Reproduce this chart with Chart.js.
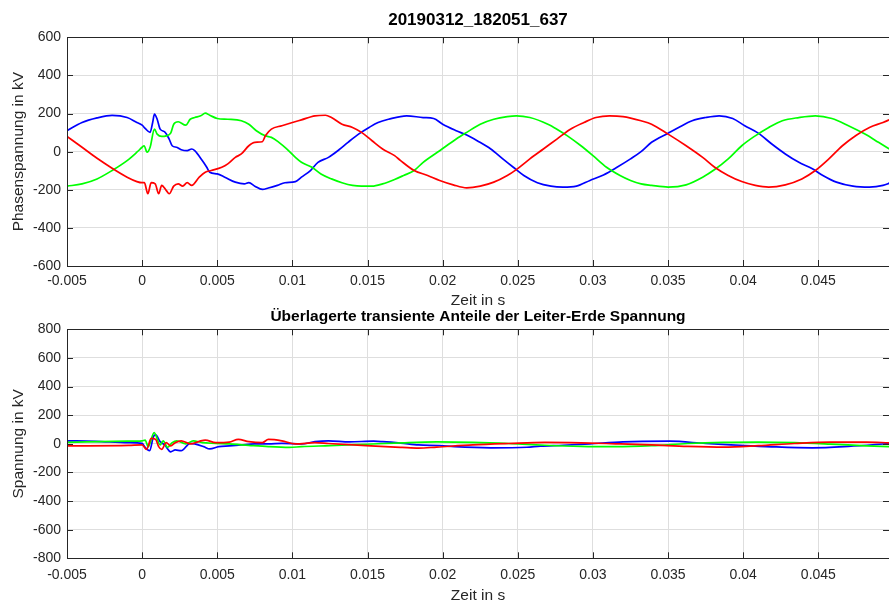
<!DOCTYPE html>
<html>
<head>
<meta charset="utf-8">
<script src="https://cdn.jsdelivr.net/npm/chart.js@4.4.1/dist/chart.umd.min.js"></script>
<style>
  html, body { margin: 0; padding: 0; background: #fff; overflow: hidden; width: 889px; height: 601px; }
  canvas { position: absolute; left: 0; }
  #top { top: 0; }
  #bottom { top: 300px; }
</style>
</head>
<body>
<canvas id="top" width="889" height="310"></canvas>
<canvas id="bottom" width="889" height="306"></canvas>
<script>
// ---------- Axis ticks ----------
const xTicks = [-0.005, 0, 0.005, 0.01, 0.015, 0.02, 0.025, 0.03, 0.035, 0.04, 0.045];
const xTickLabels = ['-0.005', '0', '0.005', '0.01', '0.015', '0.02', '0.025', '0.03', '0.035', '0.04', '0.045'];
const yTicksTop = [-600, -400, -200, 0, 200, 400, 600];
const yTicksBottom = [-800, -600, -400, -200, 0, 200, 400, 600, 800];

// ---------- Top plot: Phasenspannung (kV) ----------
const blueT = [-0.005, -0.004, -0.003, -0.002, -0.001, -0.00035, 0, 0.0002, 0.00053, 0.0007, 0.00082, 0.001, 0.0012, 0.0015, 0.0018, 0.002, 0.0023, 0.0026, 0.003, 0.0033, 0.0035, 0.004, 0.0043, 0.0045, 0.005, 0.0055, 0.0062, 0.0068, 0.0071, 0.0075, 0.008, 0.0084, 0.009, 0.0095, 0.0102, 0.0106, 0.0112, 0.0117, 0.0124, 0.0131, 0.0137, 0.0144, 0.0151, 0.0157, 0.0164, 0.0176, 0.0187, 0.0194, 0.02, 0.0209, 0.0216, 0.0223, 0.0232, 0.024, 0.0247, 0.0254, 0.0263, 0.0272, 0.028, 0.0289, 0.0298, 0.0307, 0.0316, 0.0325, 0.0332, 0.0339, 0.035, 0.0357, 0.0366, 0.0375, 0.0384, 0.0393, 0.0401, 0.041, 0.0419, 0.0428, 0.0437, 0.0446, 0.0453, 0.0462, 0.0473, 0.0484, 0.0493, 0.0498];
const blueV = [110, 153, 177, 190, 179, 153, 139, 122, 101, 153, 197, 170, 118, 104, 66, 31, 23, 10, 5, 14, 5, -47, -82, -108, -117, -134, -160, -169, -163, -181, -198, -191, -177, -163, -157, -134, -99, -56, -30, 10, 49, 92, 127, 153, 170, 188, 179, 174, 144, 110, 87, 57, 14, -38, -82, -125, -163, -181, -186, -181, -151, -122, -82, -38, 0, 49, 97, 127, 162, 179, 188, 174, 136, 97, 40, -12, -56, -90, -125, -160, -181, -186, -177, -163];

const greenT = [-0.005, -0.004, -0.003, -0.002, -0.001, -0.00035, 0, 0.00013, 0.00033, 0.00053, 0.00082, 0.001, 0.0013, 0.0016, 0.0019, 0.0021, 0.0024, 0.0029, 0.0032, 0.0035, 0.0039, 0.0042, 0.0045, 0.005, 0.0057, 0.0066, 0.0071, 0.0076, 0.0082, 0.0086, 0.0091, 0.0096, 0.0102, 0.0106, 0.0113, 0.0119, 0.0126, 0.0133, 0.014, 0.0146, 0.0153, 0.016, 0.0168, 0.0174, 0.0181, 0.0187, 0.0198, 0.0209, 0.0216, 0.0225, 0.0234, 0.0243, 0.0249, 0.0258, 0.027, 0.0276, 0.0283, 0.0292, 0.03, 0.0309, 0.0318, 0.0325, 0.0332, 0.0339, 0.035, 0.0362, 0.0373, 0.0381, 0.039, 0.0399, 0.0408, 0.0417, 0.0426, 0.0437, 0.0448, 0.0459, 0.047, 0.0481, 0.049, 0.0498];
const greenV = [-181, -169, -143, -99, -47, -3, 23, 31, -3, 23, 118, 92, 80, 83, 97, 144, 157, 139, 170, 179, 188, 202, 191, 174, 170, 162, 144, 110, 83, 75, 49, 16, -30, -56, -82, -117, -143, -163, -177, -181, -181, -169, -146, -125, -99, -56, 5, 66, 101, 144, 170, 184, 188, 179, 144, 118, 83, 31, -21, -82, -125, -151, -169, -177, -186, -174, -134, -94, -38, 31, 83, 127, 162, 179, 188, 174, 136, 92, 49, 10];

const redT = [-0.005, -0.004, -0.003, -0.002, -0.001, -0.00035, 0, 0.00015, 0.00038, 0.0006, 0.00087, 0.0011, 0.0013, 0.0016, 0.0018, 0.0021, 0.0024, 0.0027, 0.003, 0.0033, 0.0038, 0.0042, 0.0046, 0.0053, 0.0057, 0.0062, 0.0066, 0.0071, 0.0075, 0.008, 0.0082, 0.0086, 0.0093, 0.01, 0.0106, 0.0115, 0.0122, 0.0126, 0.0133, 0.014, 0.0146, 0.0153, 0.016, 0.0168, 0.0172, 0.0181, 0.019, 0.0198, 0.0207, 0.0216, 0.0225, 0.0234, 0.0243, 0.0249, 0.0258, 0.0267, 0.0276, 0.0285, 0.0294, 0.0302, 0.0311, 0.032, 0.0332, 0.0339, 0.035, 0.0362, 0.0373, 0.0381, 0.039, 0.0399, 0.0408, 0.0417, 0.0428, 0.0439, 0.0448, 0.0457, 0.0466, 0.0475, 0.0484, 0.0493, 0.0498];
const redV = [80, 23, -35, -87, -134, -157, -163, -163, -221, -163, -169, -221, -177, -203, -221, -181, -169, -181, -163, -177, -134, -108, -99, -82, -64, -30, -12, 31, 49, 52, 83, 118, 136, 153, 167, 188, 191, 179, 144, 127, 101, 57, 14, -21, -47, -99, -125, -151, -174, -190, -181, -160, -125, -94, -38, 14, 66, 118, 153, 179, 188, 184, 162, 144, 92, 31, -30, -82, -125, -157, -177, -186, -174, -143, -99, -38, 31, 85, 127, 153, 170];

// ---------- Bottom plot: transient components (kV) ----------
const blueTrT = [-0.005, -0.0031, -0.0009, 0, 0.0002, 0.0005, 0.00075, 0.0009, 0.0012, 0.0015, 0.0019, 0.0022, 0.0026, 0.0032, 0.0035, 0.0041, 0.0045, 0.0051, 0.0058, 0.0066, 0.0075, 0.0084, 0.0093, 0.0106, 0.0115, 0.0124, 0.0138, 0.0154, 0.016, 0.0172, 0.0184, 0.0198, 0.0208, 0.0232, 0.0256, 0.0265, 0.028, 0.0298, 0.032, 0.0351, 0.0375, 0.0398, 0.0422, 0.0446, 0.047, 0.0497];
const blueTrV = [21, 17, 8, 3, -25, -48, 50, 62, 15, -8, -56, -43, -48, 3, -1, -20, -36, -20, -15, -8, -1, -1, 3, -1, 15, 21, 14, 18, 15, 5, -8, -12, -20, -28, -24, -16, -10, 0, 14, 18, 2, -10, -22, -28, -18, 2];

const greenTrT = [-0.005, -0.001, 0, 0.0002, 0.0004, 0.0008, 0.0012, 0.0014, 0.0017, 0.002, 0.0023, 0.0029, 0.0034, 0.004, 0.0049, 0.0058, 0.0071, 0.0084, 0.0098, 0.0106, 0.0125, 0.0149, 0.0173, 0.0196, 0.022, 0.0244, 0.0268, 0.0292, 0.0315, 0.0339, 0.0363, 0.0387, 0.041, 0.0434, 0.0458, 0.0482, 0.0497];
const greenTrV = [10, 18, 21, 26, -20, 78, -8, 21, -25, 8, 21, -1, 21, 8, 3, -1, -11, -20, -25, -20, -13, -3, 7, 13, 10, 2, -10, -18, -20, -13, 2, 10, 12, 8, -2, -14, -20];

const redTrT = [-0.005, -0.0009, 0, 0.0003, 0.0006, 0.0009, 0.0011, 0.0013, 0.0016, 0.0019, 0.0022, 0.0026, 0.0032, 0.0038, 0.0042, 0.0049, 0.0058, 0.0064, 0.0071, 0.008, 0.0084, 0.0093, 0.0102, 0.0115, 0.0124, 0.0149, 0.0173, 0.0184, 0.0196, 0.022, 0.0244, 0.0268, 0.0292, 0.0315, 0.0339, 0.0363, 0.0387, 0.041, 0.0434, 0.0458, 0.0482, 0.0497];
const redTrV = [-15, -11, -8, -39, 38, 31, -20, -39, 8, -15, 8, 21, -1, 17, 26, 8, 12, 31, 15, 8, 31, 21, -1, 8, 2, -13, -25, -30, -23, -8, 2, 10, 7, 0, -8, -18, -23, -13, 2, 12, 12, 7];

// ---------- Helpers ----------
const FONT = "'Liberation Sans', Arial, Helvetica, sans-serif";
const TXT = '#262626';
const GRID = '#dedede';
const pts = (ts, vs) => ts.map((t, i) => ({ x: t, y: vs[i] }));
const line = (ts, vs, color) => ({
  data: pts(ts, vs), borderColor: color, backgroundColor: color,
  borderWidth: 1.7, pointRadius: 0, fill: false, cubicInterpolationMode: 'monotone'
});

const framePlugin = {
  id: 'frame',
  afterDatasetsDraw(chart) {
    const { ctx, chartArea: a, scales: { x, y } } = chart;
    ctx.save();
    ctx.strokeStyle = TXT;
    ctx.lineWidth = 1;
    ctx.beginPath();
    x.ticks.forEach(t => {
      const px = Math.round(x.getPixelForValue(t.value)) + 0.5;
      ctx.moveTo(px, a.bottom); ctx.lineTo(px, a.bottom - 6);
      ctx.moveTo(px, a.top); ctx.lineTo(px, a.top + 6);
    });
    y.ticks.forEach(t => {
      const py = Math.round(y.getPixelForValue(t.value)) + 0.5;
      ctx.moveTo(a.left, py); ctx.lineTo(a.left + 6, py);
      ctx.moveTo(a.right, py); ctx.lineTo(a.right - 6, py);
    });
    ctx.stroke();
    ctx.strokeRect(Math.round(a.left) + 0.5, Math.round(a.top) + 0.5,
                   Math.round(a.right - a.left), Math.round(a.bottom - a.top));
    ctx.restore();
  }
};

function makeChart(id, cfg) {
  return new Chart(document.getElementById(id), {
    type: 'line',
    data: { datasets: cfg.datasets },
    options: {
      responsive: false, animation: false, devicePixelRatio: 1,
      layout: { padding: 0 },
      plugins: {
        legend: { display: false }, tooltip: { enabled: false },
        title: {
          display: true, text: cfg.title, color: '#000', fullSize: false,
          font: { family: FONT, size: cfg.titleSize, weight: 'bold' },
          padding: cfg.titlePad
        }
      },
      scales: {
        x: {
          type: 'linear', min: -0.005, max: 0.0497,
          afterBuildTicks: s => { s.ticks = xTicks.map(v => ({ value: v })); },
          afterFit: s => { s.height = cfg.xHeight; },
          grid: { color: GRID, drawTicks: false },
          border: { display: false },
          ticks: {
            autoSkip: false, maxRotation: 0, color: TXT, padding: cfg.xTickPad,
            font: { family: FONT, size: 14 },
            callback: (v, i) => xTickLabels[i]
          },
          title: {
            display: true, text: 'Zeit in s', color: TXT,
            font: { family: FONT, size: 15.5 }, padding: { top: 0, bottom: cfg.xTitlePad }
          }
        },
        y: {
          type: 'linear', min: cfg.yTicks[0], max: cfg.yTicks[cfg.yTicks.length - 1],
          afterBuildTicks: s => { s.ticks = cfg.yTicks.map(v => ({ value: v })); },
          afterFit: s => { s.width = 67; },
          grid: { color: GRID, drawTicks: false },
          border: { display: false },
          ticks: {
            color: TXT, padding: 6, font: { family: FONT, size: 14 },
            callback: v => String(v)
          },
          title: {
            display: true, text: cfg.yTitle, color: TXT,
            font: { family: FONT, size: 15.5 }, padding: { top: 9.7, bottom: 0 }
          }
        }
      }
    },
    plugins: [framePlugin]
  });
}

makeChart('top', {
  title: '20190312_182051_637', titleSize: 17, titlePad: { top: 10.6, bottom: 6.3 },
  xHeight: 44, xTickPad: 7.2, xTitlePad: 0.2,
  yTicks: yTicksTop, yTitle: 'Phasenspannung in kV',
  datasets: [line(redT, redV, '#ff0000'), line(greenT, greenV, '#00ff00'), line(blueT, blueV, '#0000ff')]
});

makeChart('bottom', {
  title: 'Überlagerte transiente Anteile der Leiter-Erde Spannung', titleSize: 15.5, titlePad: { top: 7.4, bottom: 3.3 },
  xHeight: 47.7, xTickPad: 8.3, xTitlePad: 1.2,
  yTicks: yTicksBottom, yTitle: 'Spannung in kV',
  datasets: [line(redTrT, redTrV, '#ff0000'), line(greenTrT, greenTrV, '#00ff00'), line(blueTrT, blueTrV, '#0000ff')]
});
</script>
</body>
</html>
